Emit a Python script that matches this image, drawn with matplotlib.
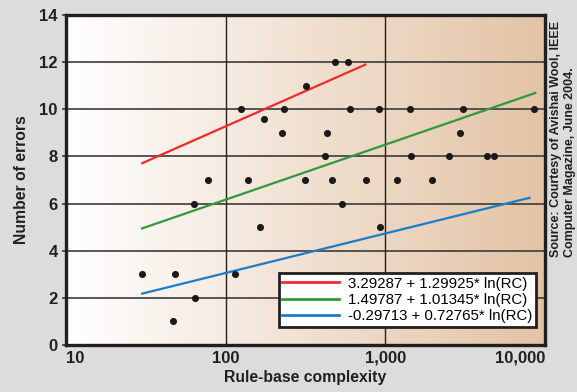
import numpy as np
import matplotlib.pyplot as plt

plt.rcParams['font.family'] = ['Liberation Sans', 'DejaVu Sans']

# rule-base complexity and number of errors for each firewall
complexity = [30, 48, 47, 64, 63, 78, 115, 125, 138, 163, 175, 227, 232,
              315, 317, 422, 430, 462, 484, 535, 585, 600, 760, 914, 927,
              1180, 1425, 1440, 1970, 2500, 2950, 3060, 4360, 4830, 8600]
errors = [3, 3, 1, 2, 6, 7, 3, 10, 7, 5, 9.57, 9, 10,
          7, 11, 8, 9, 7, 12, 6, 12, 10, 7, 10, 5,
          7, 10, 8, 7, 8, 9, 10, 8, 8, 10]

# fitted curves a + b*ln(RC)
fit_labels = ['3.29287 + 1.29925* ln(RC)',
              '1.49787 + 1.01345* ln(RC)',
              '-0.29713 + 0.72765* ln(RC)']
fit_a = [3.29287, 1.49787, -0.29713]
fit_b = [1.29925, 1.01345, 0.72765]
fit_start = [30, 30, 30]
fit_end = [750, 8700, 8000]
fit_colors = ['#ee2a2a', '#2f9a3c', '#1b7cc8']

xticks = [10, 100, 1000, 10000]
xticklabels = ['10', '100', '1,000', '10,000']
yticks = [0, 2, 4, 6, 8, 10, 12, 14]

fig = plt.figure(figsize=(5.77, 3.92), dpi=100, facecolor='#dcdcdc')
ax = fig.add_axes([0.1144, 0.120, 0.830, 0.8418])

# white-to-tan gradient background
grad = np.linspace(0, 1, 256)[None, :, None]
c0 = np.array([1.0, 1.0, 1.0])
c1 = np.array([227, 195, 165]) / 255.
img = c0 + grad * (c1 - c0)
ax.imshow(img, extent=[0, 1, 0, 1], transform=ax.transAxes, aspect='auto',
          zorder=0)

ax.set_xscale('log')
ax.set_xlim(10, 10000)
ax.set_ylim(0, 14)

for y in yticks[1:-1]:
    ax.axhline(y, color='#3c3a3a', lw=1.2, zorder=1)
for x in [100, 1000]:
    ax.axvline(x, color='#231f20', lw=1.0, zorder=1)

for a, b, x0, x1, col, lab in zip(fit_a, fit_b, fit_start, fit_end,
                                  fit_colors, fit_labels):
    xs = np.geomspace(x0, x1, 50)
    ax.plot(xs, a + b * np.log(xs), color=col, lw=1.6, label=lab, zorder=3)

ax.scatter(complexity, errors, s=26, color='#1a1a1a', zorder=4, linewidths=0)

ax.set_xticks(xticks)
ax.set_xticklabels(xticklabels)
ax.xaxis.set_minor_locator(plt.NullLocator())
ax.set_yticks(yticks)
labs = ax.get_xticklabels()
labs[0].set_horizontalalignment('left')
labs[-1].set_horizontalalignment('right')
ax.tick_params(axis='x', length=0, pad=4, labelsize=12)
ax.tick_params(axis='y', length=3, width=1.2, pad=3, labelsize=12,
               color='#3c3a3a')
for t in ax.get_xticklabels() + ax.get_yticklabels():
    t.set_fontweight('bold')
    t.set_color('#231f20')

for s in ax.spines.values():
    s.set_linewidth(2.4)
    s.set_color('#231f20')
    s.set_zorder(5)

ax.set_xlabel('Rule-base complexity', fontsize=11.3, fontweight='bold',
              color='#231f20', labelpad=3)
ax.set_ylabel('Number of errors', fontsize=11.3, fontweight='bold',
              color='#231f20', labelpad=7)

leg = ax.legend(loc='lower right', bbox_to_anchor=(0.981, 0.055),
                fontsize=10.8, frameon=True, fancybox=False, framealpha=1,
                handlelength=3.8, handletextpad=0.55, borderpad=0.25,
                labelspacing=0.15, borderaxespad=0)
leg.get_frame().set_edgecolor('#231f20')
leg.get_frame().set_linewidth(2)
leg.set_zorder(6)
for line in leg.get_lines():
    line.set_linewidth(2)

fig.text(563 / 577, 1 - 257 / 392,
         'Source: Courtesy of Avishai Wool, IEEE\nComputer Magazine, June 2004.',
         rotation=90, ha='center', va='bottom', multialignment='left',
         fontsize=9, fontweight='bold', color='#231f20', linespacing=1.3)

fig.savefig('out.png', dpi=100, facecolor=fig.get_facecolor())
